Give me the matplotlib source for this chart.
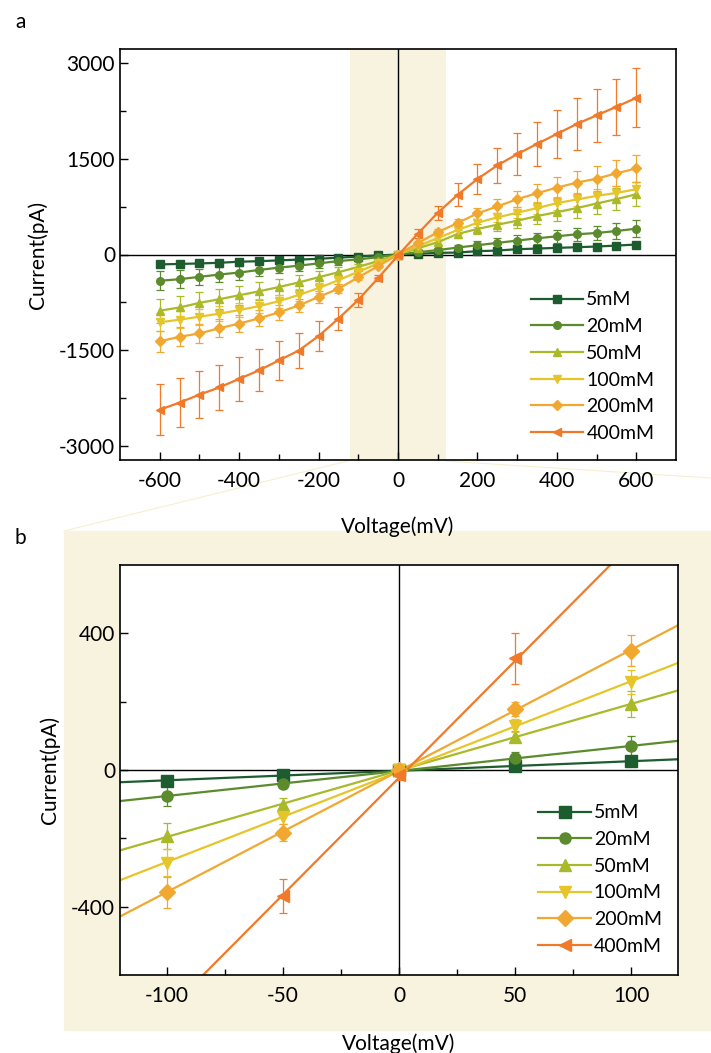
import numpy as np
import matplotlib
matplotlib.use("Agg")
import matplotlib.pyplot as plt
from matplotlib.lines import Line2D
from matplotlib.patches import Rectangle

plt.rcParams['font.family'] = ['Lato', 'DejaVu Sans']
plt.rcParams['axes.unicode_minus'] = False

# Voltage steps (mV)
volts = [-600, -550, -500, -450, -400, -350, -300, -250, -200, -150, -100, -50, 0,
         50, 100, 150, 200, 250, 300, 350, 400, 450, 500, 550, 600]

labels = ['5mM', '20mM', '50mM', '100mM', '200mM', '400mM']

# Mean currents (pA)
cur_5 = [-155, -148, -140, -130, -113, -105, -92, -80, -67, -50, -32, -15, 0,
         11, 25, 31, 52, 62, 83, 93, 104, 114, 125, 140, 156]
cur_20 = [-412, -387, -350, -314, -283, -242, -206, -175, -139, -103, -76, -42, 0,
          35, 69, 109, 145, 182, 218, 254, 285, 317, 337, 368, 405]
cur_50 = [-881, -830, -758, -701, -639, -577, -510, -438, -356, -278, -194, -103, 0,
          98, 193, 322, 400, 467, 529, 602, 664, 727, 799, 867, 945]
cur_100 = [-1062, -1021, -974, -928, -871, -809, -732, -634, -526, -402, -271, -139, 0,
           130, 257, 384, 498, 581, 654, 727, 804, 862, 919, 965, 1022]
cur_200 = [-1361, -1289, -1237, -1155, -1083, -1000, -907, -799, -665, -536, -358, -183, 0,
           179, 349, 493, 644, 753, 867, 960, 1048, 1126, 1188, 1272, 1349]
cur_400 = [-2433, -2320, -2196, -2083, -1949, -1815, -1660, -1505, -1278, -1005, -711, -369, -15,
           327, 654, 934, 1183, 1396, 1572, 1733, 1889, 2045, 2180, 2315, 2455]

# Error bars (pA)
err_5 = [45, 42, 40, 38, 36, 34, 30, 28, 25, 22, 8, 8, 3,
         8, 8, 15, 20, 22, 25, 28, 30, 32, 35, 38, 40]
err_20 = [150, 140, 130, 120, 110, 100, 90, 80, 70, 55, 30, 12, 5,
          18, 30, 45, 60, 70, 80, 90, 100, 105, 110, 120, 130]
err_50 = [190, 180, 170, 160, 150, 140, 130, 115, 100, 80, 38, 20, 5,
          15, 37, 60, 80, 100, 110, 120, 135, 150, 160, 175, 190]
err_100 = [140, 130, 125, 120, 115, 110, 100, 90, 80, 65, 40, 20, 5,
           20, 35, 55, 65, 75, 85, 95, 100, 105, 110, 115, 120]
err_200 = [160, 150, 145, 140, 130, 125, 115, 105, 95, 70, 45, 25, 5,
           20, 45, 70, 90, 110, 130, 150, 165, 180, 195, 205, 215]
err_400 = [400, 380, 370, 350, 340, 330, 310, 280, 240, 180, 110, 50, 15,
           75, 110, 180, 240, 280, 330, 340, 380, 400, 420, 440, 460]

currents = [cur_5, cur_20, cur_50, cur_100, cur_200, cur_400]
errors = [err_5, err_20, err_50, err_100, err_200, err_400]

colors = ['#1d5c2e', '#5b8b2d', '#a9b92a', '#e6c52a', '#f0a830', '#f07a2a']
markers = ['s', 'o', '^', 'v', 'D', '<']
shade = '#f8f3df'

W, H = 711, 1053
fig = plt.figure(figsize=(W / 100, H / 100), dpi=100)


def px_axes(l, t, r, b):
    return fig.add_axes([l / W, 1 - b / H, (r - l) / W, (b - t) / H])


def style(ax):
    ax.tick_params(direction='in', which='both', top=False, right=False, labelsize=15)
    ax.tick_params(which='major', length=6, width=1)
    ax.tick_params(which='minor', length=4, width=1)
    ax.tick_params(axis='x', pad=8)
    for s in ax.spines.values():
        s.set_linewidth(1.2)
    ax.axhline(0, color='black', lw=1, zorder=1)
    ax.axvline(0, color='black', lw=1, zorder=1)


def legend_handles(ms):
    return [Line2D([], [], color=c, marker=m, ms=ms, lw=1.6) for c, m in zip(colors, markers)]


# beige panel behind b and faint connecting lines
fig.patches.append(Rectangle((64 / W, 1 - 1030 / H), (711 - 64) / W, (1030 - 531) / H,
                             transform=fig.transFigure, color=shade, zorder=-5))
fig.add_artist(Line2D([348 / W, 64 / W], [1 - 461 / H, 1 - 531 / H], transform=fig.transFigure,
                      color='#f6efcf', lw=0.8, zorder=-5))
fig.add_artist(Line2D([445 / W, 711 / W], [1 - 461 / H, 1 - 478 / H], transform=fig.transFigure,
                      color='#f6efcf', lw=0.8, zorder=-5))

# ---- panel a ----
ax = px_axes(120, 49, 676, 460)
ax.axvspan(-120, 120, color=shade, zorder=0, lw=0)
for y, e, c, m in zip(currents, errors, colors, markers):
    ax.errorbar(volts, y, yerr=e, color=c, marker=m, ms=5.5, lw=1.6, ecolor=c,
                elinewidth=0.9, capsize=3, capthick=0.9, zorder=3)
style(ax)
ax.set_xlim(-700, 700)
ax.set_ylim(-3220, 3220)
ax.set_xticks([-600, -400, -200, 0, 200, 400, 600])
ax.set_xticks([-500, -300, -100, 100, 300, 500], minor=True)
ax.set_yticks([-3000, -1500, 0, 1500, 3000])
ax.set_yticks([-2250, -750, 750, 2250], minor=True)
ax.set_xlabel('Voltage(mV)', fontsize=15, labelpad=18)
ax.set_ylabel('Current(pA)', fontsize=15, labelpad=8)
ax.legend(legend_handles(5.5), labels, loc='lower right', frameon=False, fontsize=14,
          handlelength=2.7, handletextpad=0.15, labelspacing=0.5, borderaxespad=0,
          bbox_to_anchor=(0.975, 0.025))
fig.text(15 / W, 1 - 22 / H, 'a', fontsize=15, va='center')

# ---- panel b ----
bx = px_axes(120, 565, 678, 975)
bx.set_facecolor('white')
bx.set_xlim(-120, 120)
bx.set_ylim(-600, 600)
vb = np.array(volts)
mask = np.abs(vb) <= 100
xs = np.array([-120, 120])
for y, e, c, m in zip(currents, errors, colors, markers):
    y = np.array(y)[mask]
    e = np.array(e)[mask]
    k, b0 = np.polyfit(vb[mask], y, 1)
    bx.plot(xs, k * xs + b0, color=c, lw=1.6, zorder=2)
    shown = np.abs(y) <= 600
    bx.errorbar(vb[mask][shown], y[shown], yerr=e[shown], color=c, marker=m, ms=8, ls='none',
                ecolor=c, elinewidth=0.9, capsize=3, capthick=0.9, zorder=3)
style(bx)
bx.set_xticks([-100, -50, 0, 50, 100])
bx.set_xticks([-75, -25, 25, 75], minor=True)
bx.set_yticks([-400, 0, 400])
bx.set_yticks([-200, 200], minor=True)
bx.set_xlabel('Voltage(mV)', fontsize=15, labelpad=20)
bx.set_ylabel('Current(pA)', fontsize=15, labelpad=8)
bx.legend(legend_handles(8), labels, loc='lower right', frameon=False, fontsize=14,
          handlelength=2.7, handletextpad=0.15, labelspacing=0.5, borderaxespad=0,
          bbox_to_anchor=(0.985, 0.03))
fig.text(15 / W, 1 - 538 / H, 'b', fontsize=15, va='center')

fig.savefig('out.png', dpi=100)
